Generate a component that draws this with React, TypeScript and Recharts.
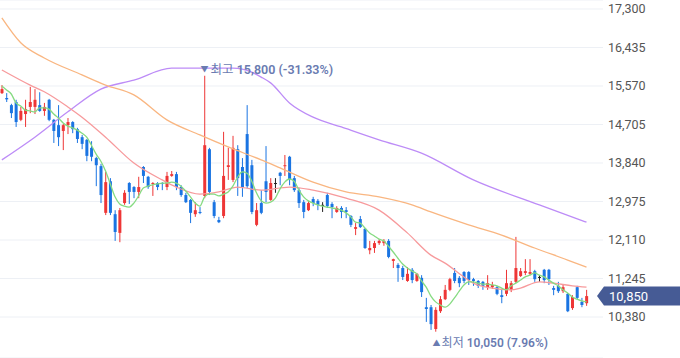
import React from "react";
import {
  Bar,
  CartesianGrid,
  ComposedChart,
  Line,
  ReferenceDot,
  ReferenceLine,
  XAxis,
  YAxis,
} from "recharts";

const opens = [
  15410, 15300, 15140, 15210, 14810, 14940, 15100, 15100, 15140, 15010,
  15260, 14810, 14690, 14560, 14690, 14760, 14600, 14420, 14360, 14180,
  13950, 13770, 12720, 13430, 12690, 12270, 12940, 13390, 13300, 13190,
  13750, 13530, 13370, 13390, 13390, 13300, 13550, 13590, 13300, 13120,
  13010, 12690, 12740, 13100, 14150, 12960, 12560, 12650, 13750, 13460,
  14150, 13750, 14490, 13790, 12450, 12940, 13430, 13010, 13390, 13620,
  13770, 13980, 13500, 13230, 12960, 12780, 13030, 12990, 12900, 13120,
  12920, 12740, 12830, 12780, 12650, 12360, 12580, 12360, 11880, 11930,
  12040, 12040, 12090, 11640, 11550, 11480, 11190, 11440, 11190, 11260,
  10600, 10600, 10110, 10510, 10780, 10990, 11370, 11260, 11390, 11390,
  11230, 11190, 11170, 11050, 11050, 11050, 10870, 10900, 10990, 11170,
  11300, 11370, 11350, 11410, 11280, 11440, 11440, 11030, 11080, 10960,
  10900, 10580, 11050, 10720, 10690,
];
const highs = [
  15590, 15410, 15170, 15260, 15100, 15260, 15550, 15500, 15430, 15190,
  15280, 14830, 15140, 14720, 14850, 14780, 14630, 14470, 14380, 14330,
  13980, 13820, 13640, 13500, 12780, 12830, 13230, 13410, 13320, 13530,
  13770, 13550, 13410, 13410, 13410, 13640, 13660, 13640, 13340, 13170,
  13030, 12960, 12850, 15800, 14180, 13010, 12630, 14540, 14180, 14450,
  14240, 13950, 15140, 13910, 12940, 13230, 14220, 13500, 13500, 13640,
  14020, 14000, 13550, 13280, 13010, 12990, 13080, 13030, 12960, 13170,
  12960, 12870, 12870, 12850, 12670, 12490, 12650, 12380, 12090, 12090,
  12130, 12130, 12130, 11690, 11590, 11530, 11500, 11480, 11370, 11320,
  10810, 10650, 10600, 10850, 11100, 11260, 11480, 11300, 11410, 11410,
  11260, 11210, 11190, 11320, 11170, 11080, 10990, 11440, 11190, 12180,
  11480, 11680, 11680, 11440, 11320, 11460, 11460, 11080, 11170, 11100,
  10920, 10870, 11080, 10810, 10990,
];
const lows = [
  15390, 15210, 14850, 14650, 14780, 14650, 14960, 14940, 14990, 14900,
  14780, 14290, 14220, 14130, 14490, 14510, 14290, 14150, 13880, 13880,
  13320, 12940, 12670, 12670, 12090, 12060, 12900, 12920, 13050, 13050,
  13390, 13260, 13100, 13230, 13230, 13230, 13530, 13230, 13080, 12940,
  12490, 12630, 12690, 13050, 13120, 12600, 12490, 12600, 13460, 13410,
  13100, 13080, 13280, 12690, 12420, 12690, 12960, 12990, 13170, 13340,
  13550, 13340, 13190, 12830, 12600, 12760, 12870, 12780, 12740, 12830,
  12600, 12720, 12600, 12600, 12400, 12220, 12380, 11910, 11790, 11820,
  12000, 11980, 11700, 11480, 11170, 11210, 11170, 11140, 11170, 10830,
  10270, 10090, 10050, 10470, 10760, 10960, 11140, 11050, 11140, 11100,
  11080, 11030, 10990, 10990, 11010, 10870, 10690, 10850, 10940, 11140,
  11280, 11320, 11320, 11170, 11170, 11140, 11100, 10870, 10920, 10920,
  10490, 10540, 10780, 10600, 10630,
];
const closes = [
  15500, 15270, 14960, 14760, 15010, 15050, 15210, 15260, 15010, 15100,
  14810, 14560, 14420, 14690, 14760, 14600, 14380, 14270, 14000, 13980,
  13790, 13120, 13410, 12720, 12290, 12780, 13170, 13190, 13190, 13300,
  13550, 13300, 13390, 13300, 13370, 13550, 13590, 13300, 13120, 12960,
  12720, 12780, 12720, 14240, 13190, 12650, 12510, 13550, 13790, 14180,
  13500, 13300, 13320, 12740, 12780, 12720, 13190, 13390, 13390, 13550,
  13790, 13460, 13230, 12940, 12740, 12940, 12940, 12900, 12900, 12870,
  12850, 12830, 12740, 12740, 12450, 12400, 12400, 11930, 11930, 12040,
  12090, 12090, 11730, 11680, 11480, 11280, 11350, 11210, 11350, 10940,
  10560, 10220, 10540, 10780, 10990, 11230, 11190, 11140, 11190, 11210,
  11190, 11080, 11080, 11140, 11100, 10900, 10830, 11140, 11140, 11480,
  11410, 11410, 11390, 11230, 11280, 11210, 11230, 10990, 10960, 11050,
  10510, 10830, 10810, 10650, 10850,
];

// 5-day average, read for every session
const ma5 = [
  15570, 15480, 15390, 15190, 15120, 15030, 15010, 14990, 15080, 15080,
  15050, 14940, 14850, 14740, 14670, 14630, 14580, 14510, 14420, 14240,
  14040, 13880, 13660, 13370, 13080, 12920, 12870, 12850, 12940, 13100,
  13280, 13320, 13350, 13370, 13390, 13390, 13410, 13390, 13320, 13210,
  13080, 12940, 12870, 13080, 13140, 13140, 13100, 13140, 13190, 13320,
  13520, 13640, 13610, 13430, 13170, 12990, 12940, 12960, 13050, 13260,
  13410, 13480, 13430, 13230, 13080, 12990, 12940, 12900, 12870, 12850,
  12830, 12810, 12780, 12720, 12630, 12510, 12490, 12380, 12270, 12200,
  12130, 12090, 11970, 11840, 11700, 11570, 11480, 11410, 11350, 11190,
  11050, 10850, 10720, 10650, 10600, 10670, 10810, 10960, 11100, 11170,
  11170, 11140, 11120, 11120, 11100, 11080, 11030, 10990, 11080, 11140,
  11210, 11280, 11320, 11370, 11320, 11280, 11210, 11140, 11080, 10990,
  10920, 10830, 10780, 10740, 10720,
];

// longer averages, read at a few sessions: [session, price]
const ma20Points = [
  [0, 15930], [6, 15590], [9, 15440], [14, 15100], [17, 14870], [22, 14420],
  [28, 13840], [34, 13460], [37, 13300], [42, 13140], [46, 13190], [50, 13300],
  [55, 13230], [61, 13300], [66, 13230], [73, 13050], [80, 12780], [86, 12270],
  [91, 11770], [94, 11590], [98, 11280], [100, 11140], [104, 11030], [108, 10990],
  [110, 11030], [114, 11170], [117, 11140], [121, 11080], [124, 11050],
];
const ma60Points = [
  [0, 17100], [4, 16540], [9, 16200], [17, 15820], [22, 15590], [28, 15370],
  [35, 14810], [42, 14470], [48, 14200], [55, 13910], [59, 13730], [66, 13410],
  [73, 13190], [80, 13080], [87, 12900], [91, 12740], [99, 12450], [106, 12220],
  [113, 11930], [120, 11660], [124, 11500],
];
const ma120Points = [
  [0, 13910], [7, 14420], [14, 14990], [21, 15500], [28, 15700], [36, 15970],
  [42, 15970], [49, 15970], [53, 15880], [55, 15770], [57, 15640], [61, 15190],
  [66, 14870], [72, 14650], [80, 14360], [89, 14060], [100, 13460], [114, 12900],
  [124, 12510],
];

const yTicks = [10380, 11245, 12110, 12975, 13840, 14705, 15570, 16435, 17300];
const lastPrice = 10850;
const highMark = { session: 43, price: 15800, name: "최고", text: "15,800 (-31.33%)" };
const lowMark = { session: 92, price: 10050, name: "최저", text: "10,050 (7.96%)" };

const RED = "#ee3636";
const BLUE = "#1a74e2";
const DOJI = "#222222";
const MARK = "#6a7bb1";
const FONT = "Roboto, 'Noto Sans CJK KR', sans-serif";

const pick = (points: number[][], i: number) => {
  const p = points.find((q) => q[0] === i);
  return p ? p[1] : null;
};

const data = closes.map((c, i) => ({
  i,
  open: opens[i],
  high: highs[i],
  low: lows[i],
  close: c,
  range: [lows[i], highs[i]],
  ma5: ma5[i],
  ma20: pick(ma20Points, i),
  ma60: pick(ma60Points, i),
  ma120: pick(ma120Points, i),
}));

function Candle(props: any) {
  const { x, y, width, height, payload } = props;
  const { open, high, low, close } = payload;
  const top = Math.min(y, y + height);
  const h = Math.abs(height);
  const toY = (v: number) => (high === low ? top : top + ((high - v) / (high - low)) * h);
  const color = close > open ? RED : close < open ? BLUE : DOJI;
  const cx = x + width / 2;
  const bodyTop = toY(Math.max(open, close));
  const bodyBottom = toY(Math.min(open, close));
  return (
    <g>
      <line x1={cx} x2={cx} y1={top} y2={top + h} stroke={color} strokeWidth={1} />
      <rect x={x} y={bodyTop} width={width} height={Math.max(1, bodyBottom - bodyTop)} fill={color} />
    </g>
  );
}

function PriceTag(props: any) {
  const { x1, x2, y1 } = props;
  const left = Math.max(x1, x2) + 1;
  return (
    <g>
      <polygon
        points={`${left - 7},${y1} ${left},${y1 - 9.5} 680,${y1 - 9.5} 680,${y1 + 9.5} ${left},${y1 + 9.5}`}
        fill="#465b95"
      />
      <text x={left + 5} y={y1 + 4.5} fill="#fff" fontSize={13} fontFamily={FONT}>
        {lastPrice.toLocaleString("en-US")}
      </text>
    </g>
  );
}

function HighMark(props: any) {
  const { cx, cy } = props;
  return (
    <g fontFamily={FONT} fill={MARK}>
      <text x={cx} y={cy - 4} fontSize={8} textAnchor="middle">▼</text>
      <text x={cx + 6} y={cy - 2} fontSize={12.5}>
        {highMark.name} <tspan fontWeight={600}>{highMark.text}</tspan>
      </text>
    </g>
  );
}

function LowMark(props: any) {
  const { cx, cy } = props;
  return (
    <g fontFamily={FONT} fill={MARK}>
      <text x={cx + 1} y={cy + 14} fontSize={8} textAnchor="middle">▲</text>
      <text x={cx + 6} y={cy + 15} fontSize={12}>
        {lowMark.name} <tspan fontWeight={600}>{lowMark.text}</tspan>
      </text>
    </g>
  );
}

export default function App() {
  return (
    <div style={{ position: "absolute", left: 0, top: 0, background: "#fff" }}>
      <ComposedChart width={680} height={358} data={data} margin={{ top: 0, right: 0, bottom: 0, left: 0 }}>
        <CartesianGrid vertical={false} stroke="#edf0f5" />
        <XAxis type="number" dataKey="i" domain={[-0.392, 127.5]} hide allowDataOverflow />
        <YAxis
          orientation="right"
          width={77}
          domain={[9459, 17502]}
          ticks={yTicks}
          interval={0}
          allowDataOverflow
          axisLine={false}
          tickLine={false}
          tickSize={0}
          tickMargin={5}
          tick={{ fill: "#555", fontSize: 12.5, fontFamily: FONT, textAnchor: "start" }}
          tickFormatter={(v: number) => v.toLocaleString("en-US")}
        />
        <Line dataKey="ma120" type="monotone" stroke="#bd8cf7" strokeWidth={1.3} dot={false} activeDot={false} connectNulls isAnimationActive={false} />
        <Line dataKey="ma60" type="monotone" stroke="#f9b681" strokeWidth={1.3} dot={false} activeDot={false} connectNulls isAnimationActive={false} />
        <Line dataKey="ma20" type="monotone" stroke="#f79a9c" strokeWidth={1.3} dot={false} activeDot={false} connectNulls isAnimationActive={false} />
        <Line dataKey="ma5" type="monotone" stroke="#86db82" strokeWidth={1.3} dot={false} activeDot={false} isAnimationActive={false} />
        <Bar dataKey="range" barSize={3} shape={<Candle />} activeBar={false} isAnimationActive={false} />
        <ReferenceLine y={lastPrice} shape={<PriceTag />} />
        <ReferenceDot x={highMark.session} y={highMark.price} ifOverflow="visible" shape={<HighMark />} />
        <ReferenceDot x={lowMark.session} y={lowMark.price} ifOverflow="visible" shape={<LowMark />} />
      </ComposedChart>
    </div>
  );
}
